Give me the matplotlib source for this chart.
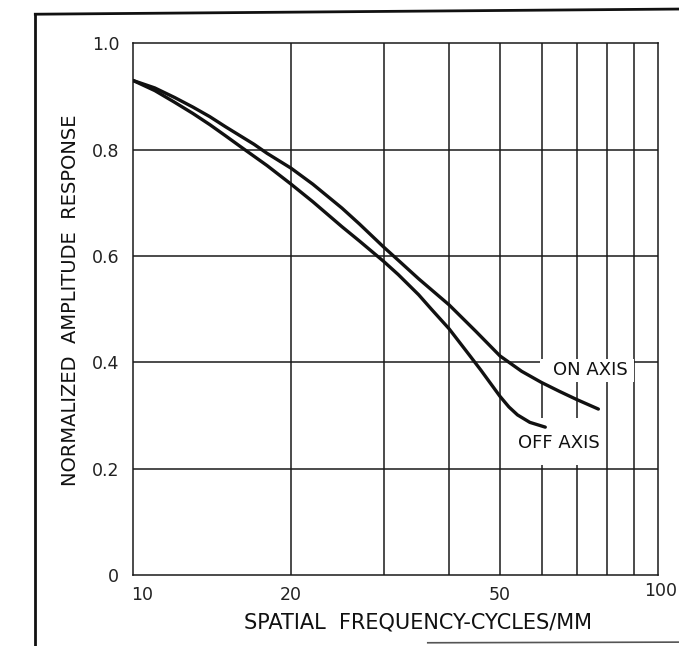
import matplotlib
matplotlib.use("Agg")
import matplotlib.pyplot as plt
from matplotlib.patches import Rectangle
from matplotlib.lines import Line2D
from matplotlib.ticker import NullLocator
from matplotlib.transforms import ScaledTranslation

# response curves read along the log frequency axis
on_freq = [10, 11, 12, 13, 14, 15, 17, 18, 20, 22, 25, 27, 30, 32, 35,
           40, 45, 50, 55, 60, 65, 70, 77]
on_resp = [0.93, 0.916, 0.898, 0.88, 0.862, 0.843, 0.81, 0.793, 0.765,
           0.735, 0.69, 0.66, 0.617, 0.592, 0.557, 0.508, 0.458, 0.412,
           0.383, 0.362, 0.345, 0.33, 0.312]

off_freq = [10, 11, 12, 13, 14, 15, 16, 18, 20, 22, 25, 27, 30, 32, 35,
            37, 40, 44, 46, 48, 50, 52, 54, 57, 61]
off_resp = [0.93, 0.911, 0.889, 0.868, 0.847, 0.826, 0.806, 0.77, 0.735,
            0.702, 0.655, 0.628, 0.59, 0.565, 0.527, 0.5, 0.463, 0.41,
            0.385, 0.36, 0.336, 0.316, 0.301, 0.287, 0.278]

x_ticks = [10, 20, 50, 100]
y_ticks = [0, 0.2, 0.4, 0.6, 0.8, 1.0]
y_tick_labels = ["0", "0.2", "0.4", "0.6", "0.8", "1.0"]

plt.rcParams["font.family"] = ["DejaVu Sans"]

fig = plt.figure(figsize=(6.79, 6.46), dpi=100)
ax = fig.add_axes([0.196, 0.110, 0.773, 0.823])

ax.set_xscale("log")
ax.set_xlim(10, 100)
ax.set_ylim(0, 1.0)

# grid: every 10 cycles/mm, every 0.2 in response
for f in range(20, 100, 10):
    ax.axvline(f, color="#1a1a1a", lw=1.1, zorder=1)
for v in [0.2, 0.4, 0.6, 0.8]:
    ax.axhline(v, color="#1a1a1a", lw=1.1, zorder=1)

# white areas behind the curve labels
ax.add_patch(Rectangle((59.5, 0.362), 90 - 59.5, 0.406 - 0.362,
                       facecolor="white", edgecolor="none", zorder=2))
ax.add_patch(Rectangle((52.5, 0.206), 79 - 52.5, 0.296 - 0.206,
                       facecolor="white", edgecolor="none", zorder=2))

for fx, ry in [(on_freq, on_resp), (off_freq, off_resp)]:
    ax.plot(fx, ry, color="#111111", lw=2.4, zorder=3,
            solid_capstyle="round", solid_joinstyle="round")

ax.text(74.5, 0.385, "ON AXIS", fontsize=13, ha="center", va="center",
        color="#111111", zorder=4)
ax.text(64.8, 0.249, "OFF AXIS", fontsize=13, ha="center", va="center",
        color="#111111", zorder=4)

for s in ax.spines.values():
    s.set_linewidth(1.1)
    s.set_color("#1a1a1a")

ax.set_xticks(x_ticks)
ax.set_xticklabels([str(t) for t in x_ticks])
ax.xaxis.set_minor_locator(NullLocator())
ax.set_yticks(y_ticks)
ax.set_yticklabels(y_tick_labels)
ax.tick_params(axis="both", length=0, labelsize=12.5, colors="#222222")
ax.tick_params(axis="y", pad=10)
ax.tick_params(axis="x", pad=8)

# the end labels of the frequency axis sit a little to the right
xlabels = ax.get_xticklabels()
xlabels[0].set_transform(xlabels[0].get_transform()
                         + ScaledTranslation(0.09, 0, fig.dpi_scale_trans))
xlabels[-1].set_transform(xlabels[-1].get_transform()
                          + ScaledTranslation(0.03, 0.04, fig.dpi_scale_trans))

ax.set_xlabel("SPATIAL  FREQUENCY-CYCLES/MM", fontsize=15, color="#111111")
ax.xaxis.set_label_coords(0.543, -0.07)
ax.set_ylabel("NORMALIZED  AMPLITUDE  RESPONSE", fontsize=14, color="#111111")
ax.yaxis.set_label_coords(-0.102, 0.517)

# page frame lines around the figure
fig.add_artist(Line2D([0.052, 0.052], [0.0, 0.978], transform=fig.transFigure,
                      color="#111111", lw=2.0))
fig.add_artist(Line2D([0.052, 1.0], [0.978, 0.986], transform=fig.transFigure,
                      color="#111111", lw=2.0))
fig.add_artist(Line2D([0.63, 1.0], [0.005, 0.006], transform=fig.transFigure,
                      color="#555555", lw=1.2))

fig.savefig("out.png", dpi=100, facecolor="white")
